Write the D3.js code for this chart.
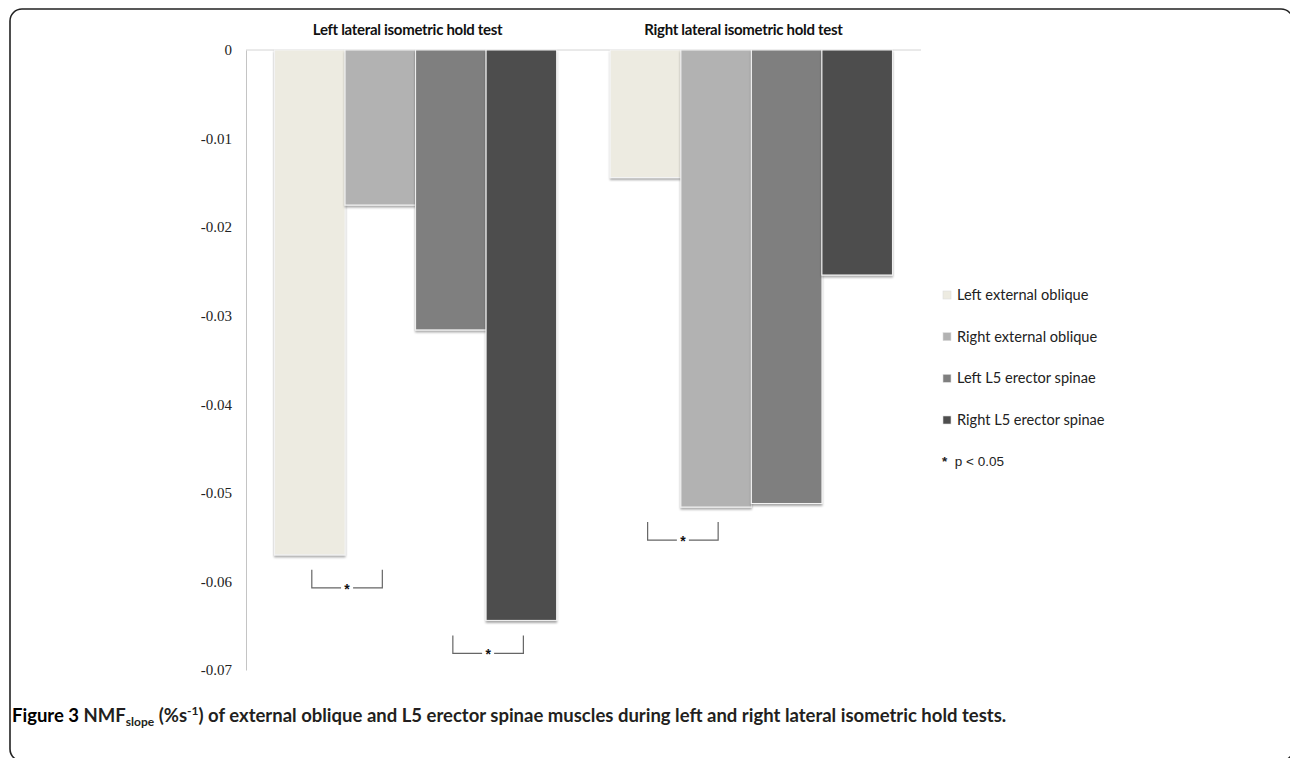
<!DOCTYPE html>
<html>
<head>
<meta charset="utf-8">
<script src="https://cdn.jsdelivr.net/npm/d3@7"></script>
<style>
  body { margin: 0; background: #fff; }
  svg { display: block; }
</style>
</head>
<body>
<div id="chart"><svg></svg></div>
<script>
// chart data
const tests = ["Left lateral isometric hold test", "Right lateral isometric hold test"];
const muscles = ["Left external oblique", "Right external oblique", "Left L5 erector spinae", "Right L5 erector spinae"];
const leftHold = [-0.0570, -0.0175, -0.0316, -0.0644];
const rightHold = [-0.0144, -0.0516, -0.0512, -0.0254];
const yTicks = [0, -0.01, -0.02, -0.03, -0.04, -0.05, -0.06, -0.07];
// significant pairs: [test index, muscle a, muscle b]
const sigPairs = [[0, 0, 1], [0, 2, 3], [1, 0, 1]];
const colors = ["#edebe1", "#b2b2b2", "#7f7f7f", "#4e4e4e"];

const W = 1290, H = 758;
const svg = d3.select("#chart > svg").attr("width", W).attr("height", H);

// drop shadow under the bars
const defs = svg.append("defs");
defs.append("filter").attr("id", "shadow")
  .attr("x", "-10%").attr("y", "-10%").attr("width", "130%").attr("height", "130%")
  .append("feDropShadow")
  .attr("dx", 0).attr("dy", 2).attr("stdDeviation", 1.2)
  .attr("flood-color", "#000").attr("flood-opacity", 0.35);

// outer frame
svg.append("rect")
  .attr("x", 10).attr("y", 9).attr("width", 1283).attr("height", 752)
  .attr("rx", 12).attr("ry", 12)
  .attr("fill", "none").attr("stroke", "#222").attr("stroke-width", 1.6);

const x0 = d3.scaleBand().domain(tests).range([246, 921])
  .paddingInner(0.16).paddingOuter(0.085);
const x1 = d3.scaleBand().domain(muscles).range([0, x0.bandwidth()]);
const y = d3.scaleLinear().domain([-0.07, 0]).range([670, 50]);

const values = [leftHold, rightHold];
const rows = [];
tests.forEach((t, i) => muscles.forEach((m, j) => rows.push({ test: t, muscle: m, value: values[i][j], j })));

// top line at zero
svg.append("line")
  .attr("x1", 246).attr("x2", 921).attr("y1", y(0)).attr("y2", y(0))
  .attr("stroke", "#d4d4d4").attr("stroke-width", 1);

// y axis
const yAxis = svg.append("g")
  .attr("transform", "translate(246,0)")
  .call(d3.axisLeft(y).tickValues(yTicks).tickSize(0).tickPadding(14)
    .tickFormat(d => d === 0 ? "0" : d.toFixed(2)));
yAxis.select(".domain").attr("stroke", "#c4c4c4");
yAxis.selectAll("text")
  .attr("font-family", "'Liberation Serif', 'Times New Roman', serif")
  .attr("font-size", 15).attr("fill", "#222");

// bars
svg.append("g").selectAll("rect").data(rows).join("rect")
  .attr("x", d => x0(d.test) + x1(d.muscle))
  .attr("y", y(0))
  .attr("width", x1.bandwidth())
  .attr("height", d => y(d.value) - y(0))
  .attr("fill", d => colors[d.j])
  .attr("stroke", "#f4f4f4").attr("stroke-width", 1)
  .attr("filter", "url(#shadow)");

// test titles
svg.append("g").selectAll("text").data(tests).join("text")
  .attr("x", d => x0(d) + x0.bandwidth() / 2 - 8)
  .attr("y", 35)
  .attr("text-anchor", "middle")
  .attr("font-family", "Lato, sans-serif").attr("font-weight", 700)
  .attr("font-size", 15).attr("letter-spacing", -0.3).attr("fill", "#111")
  .text(d => d);

// significance brackets
const brackets = svg.append("g");
sigPairs.forEach(([t, a, b]) => {
  const test = tests[t];
  const xa = x0(test) + x1(muscles[a]) + x1.bandwidth() / 2 + 2;
  const xb = x0(test) + x1(muscles[b]) + x1.bandwidth() / 2 + 2;
  const low = Math.min(values[t][a], values[t][b]);
  const top = y(low) + 15, bot = top + 18;
  const mid = (xa + xb) / 2;
  brackets.append("path")
    .attr("d", `M${xa},${top}V${bot}H${mid - 6}M${mid + 6},${bot}H${xb}V${top}`)
    .attr("fill", "none").attr("stroke", "#666").attr("stroke-width", 1.2);
  brackets.append("text")
    .attr("x", mid).attr("y", bot + 6)
    .attr("text-anchor", "middle")
    .attr("font-family", "'Liberation Sans', Arial, sans-serif")
    .attr("font-size", 14).attr("font-weight", 700).attr("fill", "#111")
    .text("*");
});

// legend
const legendY = d3.scalePoint().domain(muscles).range([295, 420]);
const legend = svg.append("g");
legend.selectAll("rect").data(muscles).join("rect")
  .attr("x", 943).attr("y", d => legendY(d) - 4)
  .attr("width", 8).attr("height", 8)
  .attr("fill", (d, i) => colors[i]).attr("stroke", "#ddd").attr("stroke-width", 0.6);
legend.selectAll("text").data(muscles).join("text")
  .attr("x", 957).attr("y", d => legendY(d) + 5)
  .attr("font-family", "Lato, sans-serif").attr("font-size", 14.6)
  .attr("fill", "#222")
  .text(d => d);
legend.append("text")
  .attr("x", 942).attr("y", 466)
  .attr("font-family", "'Liberation Sans', Arial, sans-serif").attr("font-size", 13.5)
  .attr("fill", "#222")
  .html('<tspan font-weight="700">*</tspan>  p &lt; 0.05')
  .attr("xml:space", "preserve");

// caption
const cap = svg.append("text")
  .attr("x", 12).attr("y", 722)
  .attr("font-family", "Lato, sans-serif").attr("font-weight", 700)
  .attr("font-size", 18.5).attr("fill", "#231f20");
cap.append("tspan").attr("fill", "#000").text("Figure 3 ");
cap.append("tspan").text("NMF");
cap.append("tspan").attr("font-size", 12).attr("dy", 4).text("slope");
cap.append("tspan").attr("dy", -4).text(" (%s");
cap.append("tspan").attr("font-size", 12).attr("dy", -7).text("-1");
cap.append("tspan").attr("dy", 7).text(") of external oblique and L5 erector spinae muscles during left and right lateral isometric hold tests.");
</script>
</body>
</html>
